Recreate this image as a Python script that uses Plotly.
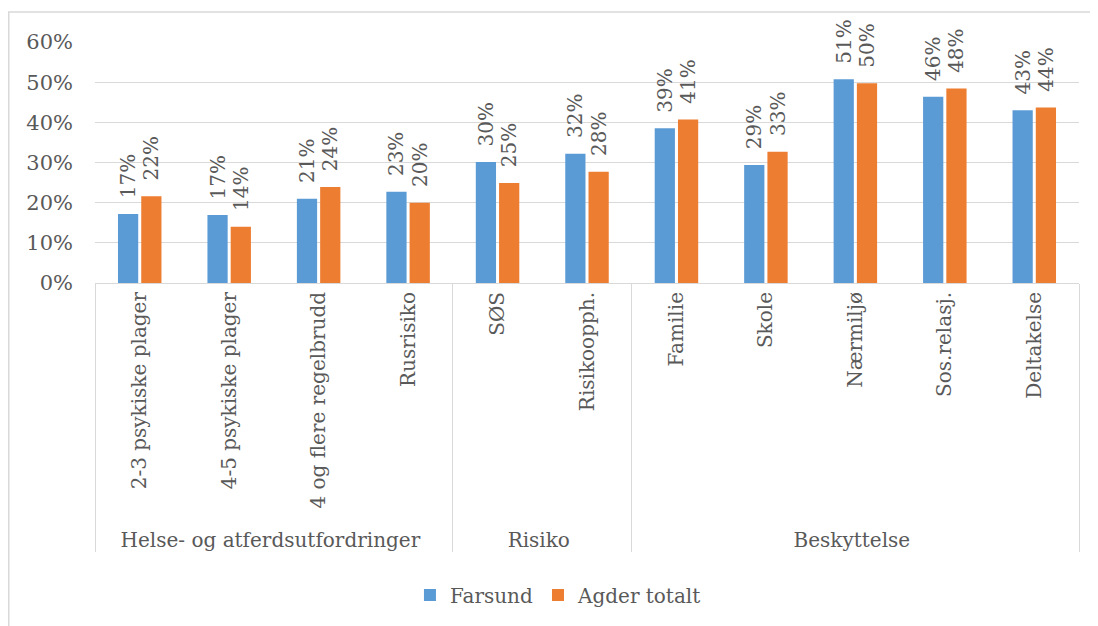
import plotly.graph_objects as go

groups = ["Helse- og atferdsutfordringer"] * 4 + ["Risiko"] * 2 + ["Beskyttelse"] * 5
categories = ["2-3 psykiske plager", "4-5 psykiske plager", "4 og flere regelbrudd", "Rusrisiko",
              "SØS", "Risikoopph.",
              "Familie", "Skole", "Nærmiljø", "Sos.relasj.", "Deltakelse"]
farsund = [0.172, 0.169, 0.210, 0.227, 0.301, 0.322, 0.385, 0.294, 0.507, 0.464, 0.430]
agder = [0.216, 0.140, 0.239, 0.200, 0.249, 0.277, 0.407, 0.327, 0.497, 0.484, 0.437]
yticks = [0, 0.1, 0.2, 0.3, 0.4, 0.5, 0.6]

FONT = "DejaVu Serif"
GREY = "#595959"
FS = 20

W, H = 1090, 618
L, T, PB, PR = 87, 34, 275, 1071
PW, PH = PR - L, PB - T

fig = go.Figure()
for name, vals, col in [("Farsund", farsund, "#5B9BD5"), ("Agder totalt", agder, "#ED7D31")]:
    fig.add_trace(go.Bar(
        x=[groups, categories], y=vals, name=name,
        marker=dict(color=col, line=dict(width=0)),
        texttemplate="\u00a0\u00a0%{y:.0%}", textposition="outside", textangle=-90,
        constraintext="none",
        textfont=dict(family=FONT, size=FS, color=GREY),
        cliponaxis=False,
    ))

fig.update_layout(
    width=W, height=H,
    margin=dict(l=L, r=W - PR, t=T, b=H - PB),
    paper_bgcolor="white", plot_bgcolor="white",
    barmode="group", bargap=0.48, bargroupgap=0.13,
    font=dict(family=FONT, size=FS, color=GREY),
    showlegend=True,
    legend=dict(orientation="h", x=0.471, xanchor="center", y=(PB - 587) / PH, yanchor="middle",
                font=dict(family=FONT, size=FS, color=GREY), itemwidth=30),
)
fig.update_yaxes(range=[0, 0.6], tickvals=yticks, tickformat=".0%",
                 showgrid=True, gridcolor="#d9d9d9", gridwidth=1,
                 zeroline=False, showline=False, ticks="", ticklabelstandoff=21,
                 tickfont=dict(family=FONT, size=FS + 1, color=GREY))
fig.update_xaxes(type="multicategory", tickangle=-90, showline=True, linecolor="#d9d9d9",
                 linewidth=1, showdividers=True, dividercolor="#d9d9d9", dividerwidth=1,
                 ticks="", tickfont=dict(family=FONT, size=FS, color=GREY))

# outer chart border (left and top edges)
bx = (0.75 - L) / PW
by = (PB - 4) / PH
fig.add_shape(type="path", xref="paper", yref="paper",
              path="M %f %f L %f %f L %f %f" % (bx, -2.0, bx, by, 1.2, by),
              line=dict(color="#d9d9d9", width=1.5))

fig.write_html("out.html")
